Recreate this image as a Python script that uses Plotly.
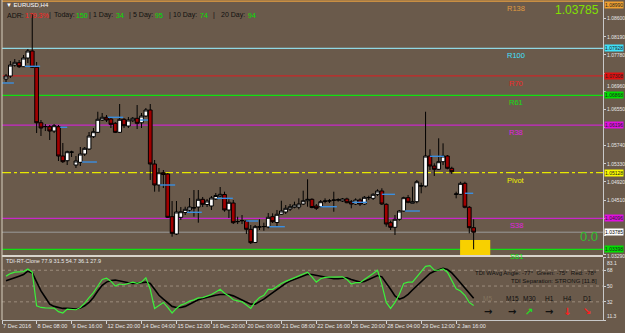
import plotly.graph_objects as go

# ---------------- data ----------------
BARS = list(range(108))
OPEN = [
    1.07236, 1.07303, 1.07551, 1.07603, 1.07513, 1.07709, 1.07867, 1.07500, 1.06251, 1.06161,
    1.06161, 1.06064, 1.06161, 1.05501, 1.05395, 1.05585, 1.05298, 1.05359, 1.05546, 1.05659,
    1.05936, 1.06035, 1.06312, 1.06373, 1.06335, 1.06238, 1.06035, 1.06328, 1.06177, 1.06296,
    1.06351, 1.06251, 1.06402, 1.06538, 1.05321, 1.04848, 1.05125, 1.05096, 1.04134, 1.03744,
    1.04120, 1.04228, 1.04285, 1.04330, 1.04352, 1.04526, 1.04409, 1.04375, 1.04533, 1.04600,
    1.04634, 1.04285, 1.04442, 1.04021, 1.04048, 1.04037, 1.03850, 1.03553, 1.03902, 1.03909,
    1.03902, 1.04134, 1.04003, 1.04188, 1.04240, 1.04307, 1.04346, 1.04352, 1.04420, 1.04494,
    1.04526, 1.04375, 1.04359, 1.04487, 1.04487, 1.04510, 1.04510, 1.04487, 1.04533, 1.04472,
    1.04420, 1.04510, 1.04420, 1.04562, 1.04548, 1.04638, 1.04713, 1.04413, 1.03999, 1.03895,
    1.04075, 1.04262, 1.04562, 1.04436, 1.04472, 1.04825, 1.04825, 1.05501, 1.05276, 1.05202,
    1.05373, 1.05501, 1.05224, 1.04638, 1.04638, 1.04886, 1.04346, 1.03886]
HIGH = [
    1.07349, 1.07641, 1.07686, 1.07664, 1.07777, 1.07912, 1.08700, 1.07619, 1.06312, 1.06222,
    1.06200, 1.06222, 1.06200, 1.05794, 1.05621, 1.05621, 1.05501, 1.05704, 1.05704, 1.06042,
    1.06132, 1.06499, 1.06470, 1.06425, 1.06380, 1.06267, 1.06673, 1.06357, 1.06380, 1.06380,
    1.06650, 1.06470, 1.06583, 1.06673, 1.05411, 1.05231, 1.05186, 1.05118, 1.04487, 1.04487,
    1.04352, 1.04359, 1.04555, 1.04735, 1.04735, 1.04578, 1.04533, 1.04600, 1.04668, 1.04803,
    1.04697, 1.04526, 1.04510, 1.04134, 1.04172, 1.04059, 1.03947, 1.03947, 1.04075, 1.03999,
    1.04217, 1.04210, 1.04285, 1.04494, 1.04397, 1.04420, 1.04472, 1.04548, 1.04720, 1.04976,
    1.04548, 1.04420, 1.04510, 1.04548, 1.04533, 1.04697, 1.04548, 1.04555, 1.04562, 1.04510,
    1.04548, 1.04548, 1.04600, 1.04607, 1.04661, 1.04751, 1.04774, 1.04436, 1.04044, 1.04172,
    1.04285, 1.04584, 1.04623, 1.04810, 1.04961, 1.04900, 1.06499, 1.05652, 1.05337, 1.05900,
    1.05787, 1.05524, 1.05260, 1.04697, 1.04922, 1.04922, 1.04375, 1.04075]
LOW = [
    1.07168, 1.07258, 1.07513, 1.07484, 1.07506, 1.07596, 1.07484, 1.06019, 1.05952, 1.06064,
    1.05862, 1.06019, 1.05389, 1.05344, 1.05298, 1.05479, 1.05231, 1.05276, 1.05501, 1.05636,
    1.05907, 1.06019, 1.06290, 1.06267, 1.06132, 1.06019, 1.06019, 1.06132, 1.06132, 1.06267,
    1.06109, 1.06132, 1.06380, 1.04961, 1.04697, 1.04697, 1.04780, 1.04105, 1.03683, 1.03722,
    1.04059, 1.04172, 1.04217, 1.04134, 1.03999, 1.04352, 1.04352, 1.04285, 1.04510, 1.04578,
    1.04246, 1.04105, 1.03969, 1.03969, 1.03969, 1.03744, 1.03519, 1.03541, 1.03834, 1.03818,
    1.03872, 1.03992, 1.03902, 1.04172, 1.04195, 1.04262, 1.04323, 1.04300, 1.04397, 1.04359,
    1.04323, 1.04285, 1.04346, 1.04436, 1.04442, 1.04246, 1.04472, 1.04465, 1.04436, 1.04323,
    1.04397, 1.04375, 1.04397, 1.04510, 1.04510, 1.04600, 1.04397, 1.03909, 1.03834, 1.03722,
    1.04044, 1.04246, 1.04436, 1.04436, 1.04436, 1.04661, 1.04796, 1.05186, 1.05051, 1.05186,
    1.05298, 1.05202, 1.05096, 1.04548, 1.04623, 1.04323, 1.03760, 1.03399]
CLOSE = [
    1.07303, 1.07551, 1.07612, 1.07513, 1.07709, 1.07867, 1.07500, 1.06251, 1.06132, 1.06166,
    1.06064, 1.06184, 1.05501, 1.05373, 1.05598, 1.05591, 1.05389, 1.05546, 1.05675, 1.05952,
    1.06049, 1.06328, 1.06373, 1.06312, 1.06215, 1.06035, 1.06328, 1.06184, 1.06312, 1.06351,
    1.06238, 1.06402, 1.06538, 1.05321, 1.04848, 1.05125, 1.05084, 1.04120, 1.03760, 1.04240,
    1.04246, 1.04300, 1.04352, 1.04337, 1.04526, 1.04413, 1.04487, 1.04555, 1.04611, 1.04638,
    1.04285, 1.04458, 1.03999, 1.04025, 1.04044, 1.03850, 1.03548, 1.03909, 1.03906, 1.03913,
    1.04120, 1.04021, 1.04188, 1.04262, 1.04323, 1.04359, 1.04397, 1.04420, 1.04494, 1.04526,
    1.04341, 1.04323, 1.04472, 1.04483, 1.04492, 1.04506, 1.04515, 1.04533, 1.04449, 1.04420,
    1.04510, 1.04420, 1.04571, 1.04566, 1.04638, 1.04713, 1.04420, 1.03969, 1.03895, 1.04075,
    1.04262, 1.04562, 1.04458, 1.04472, 1.04922, 1.04830, 1.05501, 1.05276, 1.05202, 1.05373,
    1.05501, 1.05224, 1.05148, 1.04645, 1.04886, 1.04346, 1.03886, 1.03785]

TDI_GREEN = [
    61.3, 64.2, 65.8, 65.8, 66.5, 69.5, 65.8, 27.5, 25.6, 25.2,
    24.9, 24.9, 20.8, 19.3, 23.8, 23.8, 23.0, 25.6, 30.5, 36.9,
    42.5, 50.0, 57.5, 59.0, 55.6, 50.0, 52.3, 51.5, 53.0, 54.5,
    53.0, 54.5, 59.4, 46.3, 24.5, 28.3, 31.3, 25.6, 19.3, 24.5,
    28.3, 30.1, 32.8, 34.3, 36.5, 36.9, 38.8, 40.3, 43.3, 46.3,
    41.8, 38.8, 34.3, 33.1, 32.0, 28.3, 24.5, 32.0, 36.9, 39.5,
    46.3, 46.3, 50.0, 53.0, 55.3, 57.5, 59.0, 61.3, 64.3, 65.8,
    60.5, 54.5, 58.3, 59.8, 60.1, 60.5, 60.5, 60.5, 57.5, 52.3,
    53.8, 53.8, 57.5, 60.5, 64.3, 68.0, 51.9, 31.3, 24.5, 31.3,
    40.6, 53.0, 54.5, 54.5, 60.5, 65.8, 72.5, 73.3, 68.0, 68.0,
    69.5, 65.8, 55.6, 47.0, 44.4, 39.5, 31.3, 27.9]
TDI_BLACK = [
    56.0, 57.5, 59.4, 61.3, 63.1, 66.9, 65.0, 53.8, 44.4, 36.9,
    29.4, 26.8, 25.3, 24.5, 24.5, 23.8, 23.8, 24.9, 27.5, 31.3,
    36.9, 44.4, 50.8, 54.5, 56.4, 56.8, 55.6, 54.5, 53.8, 53.0,
    53.8, 53.8, 54.5, 53.0, 46.3, 39.5, 35.0, 30.5, 26.8, 25.6,
    25.6, 26.8, 29.4, 32.0, 34.3, 35.8, 37.3, 38.8, 39.5, 40.3,
    40.6, 40.3, 38.8, 36.5, 34.3, 32.0, 29.4, 29.4, 32.0, 35.0,
    38.8, 42.5, 46.3, 50.0, 53.0, 55.6, 57.5, 59.4, 62.0, 63.5,
    63.1, 62.0, 61.3, 60.5, 59.4, 58.3, 58.3, 59.0, 59.4, 57.5,
    55.6, 54.5, 55.3, 57.5, 60.5, 62.0, 60.5, 53.8, 46.3, 38.8,
    35.0, 36.9, 40.6, 45.5, 50.0, 54.5, 59.4, 64.3, 66.9, 68.8,
    70.3, 68.8, 65.0, 59.4, 53.8, 48.1, 41.8, 36.1]
TDI_LEVELS = [32, 50, 68]

BLUE_START = [-1.5, 4.3, 12.4, 17.4, 23.3, 30.7, 35.2, 41.4, 48.3, 54.9, 60.2, 71.9, 79.2, 86.0, 91.3, 97.0, 105.0]
BLUE_END = [1.8, 7.8, 14.0, 20.8, 26.8, 32.5, 38.7, 44.8, 51.9, 57.7, 63.8, 75.7, 82.6, 89.0, 94.7, 100.2, 106.9]
BLUE_PRICE = [1.07146, 1.07522, 1.06148, 1.05366, 1.06373, 1.06312, 1.04848, 1.04233, 1.04548,
              1.04037, 1.03909, 1.04359, 1.04458, 1.04638, 1.04262, 1.05494, 1.04661]

LEVEL_NAMES = ["R138", "R100", "R70", "R61", "R38", "Pivot", "S38", "S61"]
LEVEL_PRICES = [1.08990, 1.07928, 1.07308, 1.06868, 1.06196, 1.05128, 1.04096, 1.03398]
CURRENT_PRICE = 1.03785
ZONE_BARS = [103.9, 110.8]
ZONE_PRICES = [1.03271, 1.03609]

PRICE_TICKS = [1.08600, 1.08190, 1.07780, 1.07370, 1.06960, 1.06550, 1.06140,
               1.05740, 1.05330, 1.04920, 1.04510, 1.04100, 1.03700, 1.03290]
# tick labels hidden behind the coloured level tags in the reference
PRICE_TICKS_COVERED = [1.07370, 1.06140, 1.04100, 1.03700]
TDI_TICKS = [83.1, 68, 50, 32, 11.3]
TIME_TICKS = [-0.9, 7, 15, 23, 31, 39, 47, 55, 63, 71, 79, 87, 95, 103]
TIME_LABELS = ["7 Dec 2016", "8 Dec 08:00", "9 Dec 16:00", "12 Dec 20:00", "14 Dec 04:00",
               "15 Dec 12:00", "16 Dec 20:00", "20 Dec 00:00", "21 Dec 08:00", "22 Dec 16:00",
               "26 Dec 20:00", "28 Dec 04:00", "29 Dec 12:00", "2 Jan 16:00"]

ADR_PARTS = ["ADR:", "179.3%", "|", "Today:", "150", "|", "1 Day:", "34", "|", "5 Day:", "95",
             "|", "10 Day:", "74", "|", "20 Day:", "94"]
TF_NAMES = ["M5", "M15", "M30", "H1", "H4", "D1"]
TF_ARROWS = ["→", "→", "↗", "→", "↓", "↘"]

# ---------------- styling ----------------
BG = "#6a5a4b"
FONT = "Liberation Sans"
W, H = 625, 333
ML, MR, MT, MB = 2, 22, 0, 13
PW, PH = W - ML - MR, H - MT - MB


def PX(x):
    return (x - ML) / PW


def PY(y):
    return (PH - (y - MT)) / PH


XR = [-0.92, 136.6]
LEVEL_LINE_COLORS = ["#e8a040", "#90d8e4", "#c82828", "#10e010", "#c828c8", "#e8e800", "#c828c8", "#10e010"]
LEVEL_TEXT_COLORS = ["#e09a40", "#40e0ff", "#f02828", "#10e010", "#e020e0", "#f0f000", "#e020e0", "#10e010"]
LEVEL_TAG_COLORS = ["#f0a030", "#40e0f8", "#e01010", "#00e000", "#e010e0", "#f8f800", "#e010e0", "#00e000"]
AXIS_TXT = "#e8e8e8"
TAG_SIZE = 5

fig = go.Figure()

bx, by = [], []
for s, e, p in zip(BLUE_START, BLUE_END, BLUE_PRICE):
    bx += [s, e, None]
    by += [p, p, None]
fig.add_trace(go.Scatter(x=bx, y=by, mode="lines", line=dict(color="#3a8ee0", width=1.4),
                         xaxis="x", yaxis="y", hoverinfo="skip", showlegend=False))

fig.add_trace(go.Candlestick(
    x=BARS, open=OPEN, high=HIGH, low=LOW, close=CLOSE, xaxis="x", yaxis="y",
    increasing=dict(line=dict(color="#000000", width=1), fillcolor="#ffffff"),
    decreasing=dict(line=dict(color="#000000", width=1), fillcolor="#a00000"),
    whiskerwidth=0, showlegend=False, hoverinfo="skip"))

fig.add_trace(go.Scatter(x=BARS, y=TDI_BLACK, mode="lines", line=dict(color="#000000", width=1.6),
                         xaxis="x2", yaxis="y2", hoverinfo="skip", showlegend=False))
fig.add_trace(go.Scatter(x=BARS, y=TDI_GREEN, mode="lines", line=dict(color="#3cf03c", width=1.2),
                         xaxis="x2", yaxis="y2", hoverinfo="skip", showlegend=False))

shapes = []
shapes.append(dict(type="rect", xref="x", yref="y", x0=ZONE_BARS[0], x1=ZONE_BARS[1],
                   y0=ZONE_PRICES[0], y1=ZONE_PRICES[1], fillcolor="#f8d000",
                   line=dict(width=0), layer="below"))
for name, p, c in zip(LEVEL_NAMES, LEVEL_PRICES, LEVEL_LINE_COLORS):
    shapes.append(dict(type="line", xref="x domain", yref="y", x0=0, x1=1, y0=p, y1=p,
                       line=dict(color=c, width=1.2, dash="dashdot" if name == "Pivot" else "solid"),
                       layer="below"))
shapes.append(dict(type="line", xref="x domain", yref="y", x0=0, x1=1, y0=CURRENT_PRICE,
                   y1=CURRENT_PRICE, line=dict(color="#9a9a9a", width=1), layer="below"))
for lv in TDI_LEVELS:
    shapes.append(dict(type="line", xref="x2 domain", yref="y2", x0=0, x1=1, y0=lv, y1=lv,
                       line=dict(color="#9c8c7c", width=1, dash="dot"), layer="below"))
shapes.append(dict(type="line", xref="paper", yref="paper", x0=0, x1=1, y0=PY(256), y1=PY(256),
                   line=dict(color="#d8d4cc", width=2)))
shapes.append(dict(type="line", xref="paper", yref="paper", x0=0, x1=0, y0=0, y1=1,
                   line=dict(color="#d8d0c0", width=1)))

ann = []
for name, p, c in zip(LEVEL_NAMES, LEVEL_PRICES, LEVEL_TEXT_COLORS):
    ann.append(dict(xref="x", yref="y", x=116.8, y=p, text=name, showarrow=False,
                    xanchor="center", yanchor="top", yshift=-1,
                    font=dict(family=FONT, size=7.5, color=c)))

for v in PRICE_TICKS:
    if v in PRICE_TICKS_COVERED:
        continue
    anchor, shift = "middle", 0
    if v == 1.06960:
        anchor, shift = "bottom", 1
    elif v == 1.03290:
        anchor, shift = "top", 2
    ann.append(dict(xref="paper", yref="y", x=1, y=v, text=f"{v:.5f}", showarrow=False,
                    xanchor="left", yanchor=anchor, xshift=3, yshift=shift, borderpad=0,
                    font=dict(family=FONT, size=TAG_SIZE, color=AXIS_TXT)))
for v in TDI_TICKS:
    anchor, shift = "middle", 0
    if v == TDI_TICKS[0]:
        anchor, shift = "top", -2
    elif v == TDI_TICKS[-1]:
        anchor = "bottom"
    ann.append(dict(xref="paper", yref="y2", x=1, y=v, text=str(v), showarrow=False,
                    xanchor="left", yanchor=anchor, xshift=3, yshift=shift, borderpad=0,
                    font=dict(family=FONT, size=TAG_SIZE, color=AXIS_TXT)))

for i, (p, c) in enumerate(zip(LEVEL_PRICES, LEVEL_TAG_COLORS)):
    ann.append(dict(xref="paper", yref="y", x=1, y=p, text=f"{p:.5f}", showarrow=False,
                    xanchor="left", yanchor="top" if i == 0 else "middle", xshift=1,
                    bgcolor=c, borderpad=0,
                    font=dict(family=FONT, size=TAG_SIZE, color="#202020")))
ann.append(dict(xref="paper", yref="y", x=1, y=CURRENT_PRICE, text=f"{CURRENT_PRICE:.5f}",
                showarrow=False, xanchor="left", yanchor="middle", xshift=1, bgcolor="#ffffff",
                borderpad=0, font=dict(family=FONT, size=TAG_SIZE, color="#000000")))

ann.append(dict(xref="paper", yref="paper", x=PX(4), y=PY(5), text="▼ EURUSD,H4", showarrow=False,
                xanchor="left", yanchor="middle", font=dict(family=FONT, size=6, color="#ffffff")))
ADR_X = [6, 23.8, 47.8, 52.7, 75.2, 88, 92.2, 114.6, 128.3, 132.3, 153.5, 168.3, 171.8, 198.6, 212.3, 219.5, 246.7]
ADR_COL = ["#101010", "#ff2020", "#101010", "#101010", "#00e000", "#101010", "#101010", "#00e000",
           "#101010", "#101010", "#00e000", "#101010", "#101010", "#00e000", "#101010", "#101010", "#00e000"]
for t, xx, c in zip(ADR_PARTS, ADR_X, ADR_COL):
    ann.append(dict(xref="paper", yref="paper", x=PX(xx), y=PY(15), text=t, showarrow=False,
                    xanchor="left", yanchor="middle", borderpad=0,
                    font=dict(family=FONT, size=7, color=c)))
ann.append(dict(xref="paper", yref="paper", x=PX(601), y=PY(10), text=f"{CURRENT_PRICE:.5f}",
                showarrow=False, xanchor="right", yanchor="middle",
                font=dict(family=FONT, size=12, color="#80e000")))
ann.append(dict(xref="paper", yref="paper", x=PX(589), y=PY(236), text="0.0", showarrow=False,
                xanchor="center", yanchor="middle", font=dict(family=FONT, size=13, color="#30c030")))

ann.append(dict(xref="paper", yref="paper", x=PX(4), y=PY(261),
                text=f"TDI-RT-Clone 77.9 31.5 54.7 {TDI_BLACK[-1]} {TDI_GREEN[-1]}", showarrow=False,
                xanchor="left", yanchor="middle", font=dict(family=FONT, size=5.5, color="#e8e8e8")))
ann.append(dict(xref="paper", yref="paper", x=PX(599), y=PY(273),
                text="TDI WAvg Angle: -77°  Green: -75°  Red: -78°", showarrow=False,
                xanchor="right", yanchor="middle", font=dict(family=FONT, size=6, color="#101010")))
ann.append(dict(xref="paper", yref="paper", x=PX(599), y=PY(281),
                text="TDI Separation: STRONG [11.8]", showarrow=False,
                xanchor="right", yanchor="middle", font=dict(family=FONT, size=6, color="#101010")))
TF_X = [488, 512, 529, 549, 567, 587]
TF_ARROW_COL = ["#101010", "#101010", "#20e020", "#101010", "#ff2020", "#ff2020"]
for i, (n, a) in enumerate(zip(TF_NAMES, TF_ARROWS)):
    ann.append(dict(xref="paper", yref="paper", x=PX(TF_X[i]), y=PY(298), text=n, showarrow=False,
                    xanchor="center", yanchor="middle",
                    font=dict(family=FONT, size=6.5, color="#84745f" if i == 0 else "#101010")))
    ann.append(dict(xref="paper", yref="paper", x=PX(TF_X[i]), y=PY(311), text=f"<b>{a}</b>",
                    showarrow=False, xanchor="center", yanchor="middle",
                    font=dict(family="DejaVu Sans", size=10, color=TF_ARROW_COL[i])))

axis_font = dict(family=FONT, size=5.5, color=AXIS_TXT)
fig.update_layout(
    width=W, height=H, margin=dict(l=ML, r=MR, t=MT, b=MB),
    paper_bgcolor=BG, plot_bgcolor=BG, showlegend=False,
    boxgap=0.15, boxgroupgap=0,
    shapes=shapes, annotations=ann,
    xaxis=dict(domain=[0, 1], range=XR, anchor="y", showticklabels=False, showgrid=False,
               zeroline=False, ticks="", rangeslider=dict(visible=False), fixedrange=True),
    xaxis2=dict(domain=[0, 1], range=XR, anchor="y2", tickvals=TIME_TICKS, ticktext=TIME_LABELS,
                ticks="outside", ticklen=3, tickcolor="#d0d0d0", tickfont=axis_font, tickangle=0,
                ticklabelposition="outside right", showline=True, linecolor="#c8c8c8",
                showgrid=False, zeroline=False),
    yaxis=dict(domain=[PY(255), 1], range=[1.03271, 1.09016], anchor="x", side="right",
               tickvals=PRICE_TICKS, showticklabels=False, ticks="outside",
               ticklen=2, tickcolor="#d0d0d0", showline=True,
               linecolor="#c8c8c8", showgrid=False, zeroline=False),
    yaxis2=dict(domain=[0, PY(257)], range=[11.3, 83.1], anchor="x2", side="right",
                tickvals=TDI_TICKS, showticklabels=False, ticks="outside",
                ticklen=2, tickcolor="#d0d0d0", showline=True,
                linecolor="#c8c8c8", showgrid=False, zeroline=False),
)

fig.write_html("out.html")
